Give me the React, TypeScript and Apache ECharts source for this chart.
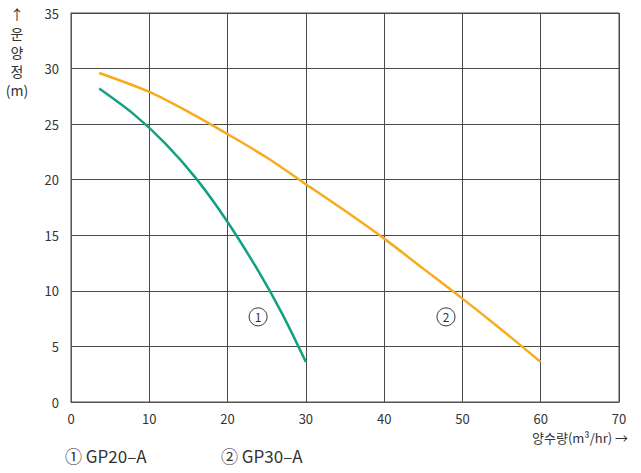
import React, { useEffect, useRef } from "react";
import * as echarts from "echarts";

const xTicks = [0, 10, 20, 30, 40, 50, 60, 70];
const yTicks = [0, 5, 10, 15, 20, 25, 30, 35];

const gp20: [number, number][] = [
  [3.6, 28.2], [8, 25.9], [12, 23.3], [16, 20.1], [20, 16.2], [24, 11.7], [27, 7.9], [30, 3.6],
];
const gp30: [number, number][] = [
  [3.6, 29.6], [10, 27.9], [15, 26.1], [20, 24.1], [25, 22.0], [30, 19.6], [35, 17.2],
  [40, 14.7], [45, 12.0], [50, 9.3], [55, 6.5], [60, 3.6],
];
const curveLabels = [
  { name: "1", coord: [23.9, 7.66] },
  { name: "2", coord: [47.9, 7.66] },
];
const legendTexts = ["① GP20–A", "② GP30–A"];
const yName = "↑\n운\n양\n정\n(m)";
const xName = "양수량(m³/hr) →";

const FONT = "'Noto Sans CJK KR', 'Noto Sans', sans-serif";

export default function App() {
  const ref = useRef<HTMLDivElement>(null);
  useEffect(() => {
    if (!ref.current) return;
    const chart = echarts.init(ref.current, undefined, { renderer: "svg" });
    const mk = (i: number) => ({
      symbol: "circle",
      symbolSize: 18,
      itemStyle: { color: "rgba(255,255,255,0)", borderColor: "#333", borderWidth: 1 },
      label: { show: true, position: "inside", formatter: "{b}", color: "#333", fontSize: 12, fontFamily: FONT },
      data: [curveLabels[i]],
    });
    chart.setOption({
      animation: false,
      backgroundColor: "#fff",
      textStyle: { fontFamily: FONT },
      grid: { left: 71, top: 13, right: 22, bottom: 71, containLabel: false },
      xAxis: {
        type: "value",
        min: xTicks[0],
        max: xTicks[xTicks.length - 1],
        interval: 10,
        axisLine: { show: true, lineStyle: { color: "#555" } },
        axisTick: { show: false },
        axisLabel: { color: "#333", fontSize: 13, margin: 10, fontFamily: FONT },
        splitLine: { show: true, lineStyle: { color: "#4a4a4a", width: 1 } },
      },
      yAxis: {
        type: "value",
        min: yTicks[0],
        max: yTicks[yTicks.length - 1],
        interval: 5,
        axisLine: { show: true, lineStyle: { color: "#555" } },
        axisTick: { show: false },
        axisLabel: { color: "#333", fontSize: 13, margin: 12, fontFamily: FONT },
        splitLine: { show: true, lineStyle: { color: "#4a4a4a", width: 1 } },
      },
      graphic: [
        {
          type: "rect",
          shape: { x: 71, y: 13, width: 548, height: 389 },
          style: { fill: "none", stroke: "#4a4a4a", lineWidth: 1 },
          silent: true,
        },
        {
          type: "text",
          x: 17,
          y: 4,
          style: { text: yName, fill: "#333", fontSize: 14, lineHeight: 19, align: "center", fontFamily: FONT },
        },
        {
          type: "text",
          x: 628,
          y: 431,
          style: { text: xName, fill: "#333", fontSize: 13, align: "right", fontFamily: FONT },
        },
        {
          type: "text",
          x: 65,
          y: 447,
          style: { text: legendTexts[0], fill: "#333", fontSize: 17, fontFamily: FONT },
        },
        {
          type: "text",
          x: 221,
          y: 447,
          style: { text: legendTexts[1], fill: "#333", fontSize: 17, fontFamily: FONT },
        },
      ],
      series: [
        {
          name: "GP20-A",
          type: "line",
          data: gp20,
          smooth: 0.3,
          showSymbol: false,
          lineStyle: { color: "#13a083", width: 2.5 },
          markPoint: mk(0),
        },
        {
          name: "GP30-A",
          type: "line",
          data: gp30,
          smooth: 0.3,
          showSymbol: false,
          lineStyle: { color: "#f7ab1d", width: 2.5 },
          markPoint: mk(1),
        },
      ],
    });
    return () => chart.dispose();
  }, []);
  return <div ref={ref} style={{ position: "fixed", left: 0, top: 0, width: 641, height: 473 }} />;
}
